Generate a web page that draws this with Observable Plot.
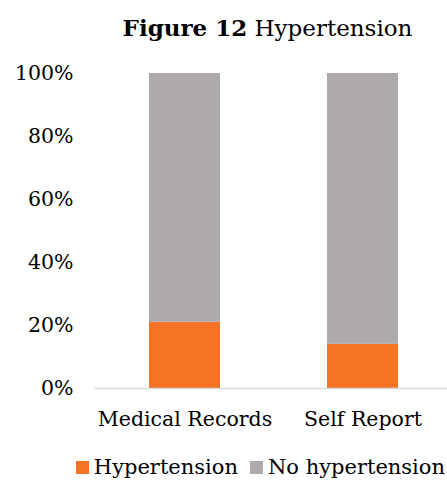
<!DOCTYPE html>
<html>
<head>
<meta charset="utf-8">
<script src="https://cdn.jsdelivr.net/npm/d3@7"></script>
<script src="https://cdn.jsdelivr.net/npm/@observablehq/plot@0.6"></script>
<style>
  html, body { margin: 0; padding: 0; background: #fff; }
  body { width: 447px; height: 481px; overflow: hidden; font-family: "DejaVu Serif", serif; color: #000; }
  #title { height: 52px; line-height: 56px; text-align: center; font-size: 23px; padding-left: 88px; white-space: nowrap; }
  #legend { display: flex; justify-content: flex-end; align-items: center; height: 34px; padding-top: 6px; box-sizing: border-box; font-size: 21px; padding-right: 2px; white-space: nowrap; }
  .sw { display: inline-block; width: 13px; height: 13px; margin-right: 5px; }
  .item { display: flex; align-items: center; margin-left: 12px; }
</style>
</head>
<body>
<div id="title"><b>Figure 12</b> Hypertension</div>
<div id="chart"></div>
<div id="legend"></div>
<script>
const categories = ["Medical Records", "Self Report"];
const seriesNames = ["Hypertension", "No hypertension"];
const hypertension = [0.21, 0.14];
const noHypertension = [0.79, 0.86];
const colors = ["#F47324", "#AEAAAA"];
const yTicks = [0, 0.2, 0.4, 0.6, 0.8, 1.0];

const rows = [];
categories.forEach((c, i) => {
  rows.push({category: c, series: seriesNames[0], value: hypertension[i]});
  rows.push({category: c, series: seriesNames[1], value: noHypertension[i]});
});

const chart = Plot.plot({
  width: 447,
  height: 395,
  marginTop: 21,
  marginBottom: 59,
  marginLeft: 95,
  marginRight: 0,
  style: {fontFamily: "DejaVu Serif, serif", fontSize: "20px", color: "#000", background: "#fff", overflow: "visible"},
  x: {domain: categories, range: [95, 452], paddingInner: 0.6, paddingOuter: 0.3, label: null},
  y: {domain: [0, 1], label: null},
  color: {domain: seriesNames, range: colors},
  marks: [
    Plot.axisY({ticks: yTicks, tickFormat: d => Math.round(d * 100) + "%", tickSize: 0, tickPadding: 22, fontSize: 20.5, label: null}),
    Plot.axisX({tickSize: 0, tickPadding: 23, fontSize: 20.5, label: null}),
    Plot.barY(rows, Plot.stackY({x: "category", y: "value", fill: "series", order: seriesNames})),
    Plot.ruleY([0], {stroke: "#D9D9D9", strokeWidth: 1.5})
  ]
});
document.getElementById("chart").appendChild(chart);

const legend = document.getElementById("legend");
seriesNames.forEach((s, i) => {
  const item = document.createElement("span");
  item.className = "item";
  const sw = document.createElement("span");
  sw.className = "sw";
  sw.style.background = colors[i];
  item.appendChild(sw);
  item.appendChild(document.createTextNode(s));
  legend.appendChild(item);
});
</script>
</body>
</html>
